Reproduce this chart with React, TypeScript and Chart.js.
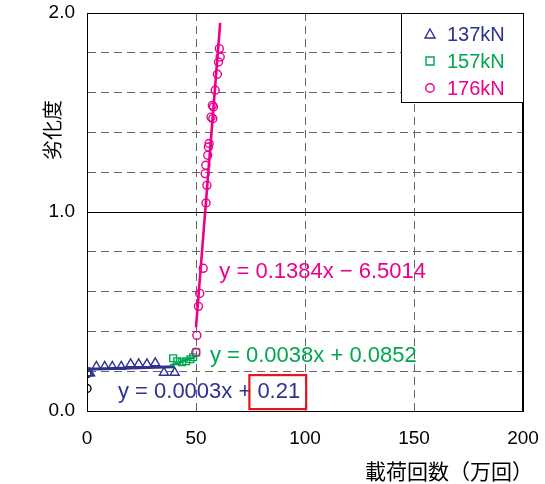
import React, { useEffect, useRef } from "react";
import { Chart, registerables } from "chart.js";

Chart.register(...registerables);

// ---------- data ----------
const SERIES_LABELS = ["137kN", "157kN", "176kN"];
const SERIES_COLORS = ["#2e3192", "#00a651", "#ec008c"];
const SERIES_MARKERS = ["triangle", "rect", "circle"];

const X_INIT = [0, 0];
const Y_INIT = [0.188, 0.113];

const X_137 = [0.8, 1.4, 4.3, 8.1, 11.6, 15.7, 20.0, 23.7, 27.5, 31.3, 35.3, 40.2];
const Y_137 = [0.19, 0.19, 0.223, 0.223, 0.223, 0.223, 0.236, 0.236, 0.236, 0.241, 0.193, 0.193];

const X_157 = [39.5, 41.4, 43.6, 45.5, 47.4, 48.7, 50.1];
const Y_157 = [0.265, 0.25, 0.245, 0.25, 0.26, 0.27, 0.295];

const X_176 = [49.9, 50.4, 51.1, 51.7, 53.3, 54.6, 55.0, 54.2, 54.5, 55.4, 55.7, 56.0, 56.9, 57.7, 57.5, 58.0, 58.8, 59.8, 60.3, 61.1, 60.7];
const Y_176 = [0.295, 0.38, 0.526, 0.591, 0.717, 1.045, 1.134, 1.193, 1.235, 1.285, 1.327, 1.344, 1.477, 1.469, 1.536, 1.528, 1.612, 1.692, 1.754, 1.779, 1.821];

const FIT_137_X = [0, 40];
const FIT_137_Y = [0.21, 0.222];
const FIT_157_X = [38.2, 49.6];
const FIT_157_Y = [0.229, 0.271];
const FIT_176_X = [50.0, 61.1];
const FIT_176_Y = [0.42, 1.95];

const EQ_137_PREFIX = "y = 0.0003x + ";
const EQ_137_BOXED = "0.21";
const EQ_157 = "y = 0.0038x + 0.0852";
const EQ_176 = "y = 0.1384x \u2212 6.5014";

const X_MIN = 0;
const X_MAX = 200;
const X_STEP = 50;
const Y_MIN = 0;
const Y_MAX = 2;
const Y_STEP = 0.2;
const Y_LABELED = [0, 1, 2];

const X_TITLE = "載荷回数（万回）";
const Y_TITLE = "劣化度";

// ---------- helpers ----------
const pts = (xs: number[], ys: number[]) => xs.map((x, i) => ({ x, y: ys[i] }));
const LATIN = "'Liberation Sans', Arial, 'Noto Sans CJK JP', sans-serif";
const CJK = "'Noto Sans CJK JP', 'Liberation Sans', sans-serif";

const isLabeledY = (v: number) => Y_LABELED.some((t) => Math.abs(t - v) < 1e-6);

function drawMarker(ctx: CanvasRenderingContext2D, kind: string, x: number, y: number) {
  ctx.beginPath();
  if (kind === "triangle") {
    ctx.moveTo(x, y - 5);
    ctx.lineTo(x + 5, y + 4);
    ctx.lineTo(x - 5, y + 4);
    ctx.closePath();
  } else if (kind === "rect") {
    ctx.rect(x - 4, y - 4, 8, 8);
  } else {
    ctx.arc(x, y, 4.2, 0, Math.PI * 2);
  }
  ctx.stroke();
}

const decorPlugin = {
  id: "decor",
  afterDraw(chart: any) {
    const { ctx, chartArea, scales } = chart;
    const xs = scales.x;
    const ys = scales.y;
    ctx.save();

    // plot frame
    ctx.strokeStyle = "#000";
    ctx.lineWidth = 1;
    ctx.strokeRect(
      Math.round(chartArea.left) + 0.5,
      Math.round(chartArea.top) + 0.5,
      Math.round(chartArea.right - chartArea.left) - 1,
      Math.round(chartArea.bottom - chartArea.top)
    );

    // equations
    ctx.font = `22px ${LATIN}`;
    ctx.textBaseline = "middle";
    ctx.textAlign = "left";

    ctx.fillStyle = SERIES_COLORS[2];
    ctx.fillText(EQ_176, xs.getPixelForValue(60.7), ys.getPixelForValue(0.70));

    ctx.fillStyle = SERIES_COLORS[1];
    ctx.fillText(EQ_157, xs.getPixelForValue(56.4), ys.getPixelForValue(0.276));

    const bx = xs.getPixelForValue(14.2);
    const by = ys.getPixelForValue(0.095);
    ctx.fillStyle = SERIES_COLORS[0];
    ctx.fillText(EQ_137_PREFIX, bx, by);
    const pw = ctx.measureText(EQ_137_PREFIX).width;
    ctx.fillText(EQ_137_BOXED, bx + pw, by);
    const bw = ctx.measureText(EQ_137_BOXED).width;
    ctx.strokeStyle = "#e8141c";
    ctx.lineWidth = 2.2;
    ctx.strokeRect(bx + pw - 8, by - 17, bw + 14, 34);

    // legend
    const lx0 = 401.5, ly0 = 13.5, lx1 = 523.5, ly1 = 102.5;
    ctx.fillStyle = "#fff";
    ctx.fillRect(lx0, ly0, lx1 - lx0, ly1 - ly0);
    ctx.strokeStyle = "#000";
    ctx.lineWidth = 1;
    ctx.strokeRect(lx0, ly0, lx1 - lx0, ly1 - ly0);
    ctx.font = `20px ${LATIN}`;
    ctx.textAlign = "left";
    ctx.textBaseline = "middle";
    const rowY = [34, 61, 88];
    SERIES_LABELS.forEach((lab, i) => {
      ctx.strokeStyle = SERIES_COLORS[i];
      ctx.lineWidth = 1.4;
      drawMarker(ctx, SERIES_MARKERS[i], 430, rowY[i]);
      ctx.fillStyle = SERIES_COLORS[i];
      ctx.fillText(lab, 447, rowY[i] + 1);
    });

    // axis titles
    ctx.fillStyle = "#000";
    ctx.font = `21px ${CJK}`;
    ctx.textAlign = "right";
    ctx.textBaseline = "middle";
    ctx.fillText(X_TITLE, 533, 471);

    ctx.save();
    ctx.translate(52, 130);
    ctx.rotate(-Math.PI / 2);
    ctx.textAlign = "center";
    ctx.font = `20px ${CJK}`;
    ctx.fillText(Y_TITLE, 0, 0);
    ctx.restore();

    ctx.restore();
  },
};

export default function App() {
  const ref = useRef<HTMLCanvasElement | null>(null);

  useEffect(() => {
    if (!ref.current) return;
    Chart.defaults.font.family = LATIN;
    const dashFor = (edge: (v: number) => boolean) => (c: any) =>
      c.tick && !edge(c.tick.value) ? [8, 5] : [];
    const xEdge = (v: number) => v === X_MIN || v === X_MAX;
    const yEdge = (v: number) => isLabeledY(v);

    const chart = new Chart(ref.current, {
      type: "scatter",
      data: {
        datasets: [
          {
            label: "fit176",
            data: pts(FIT_176_X, FIT_176_Y),
            showLine: true,
            borderColor: SERIES_COLORS[2],
            borderWidth: 2.6,
            pointRadius: 0,
          },
          {
            label: "fit157",
            data: pts(FIT_157_X, FIT_157_Y),
            showLine: true,
            borderColor: SERIES_COLORS[1],
            borderWidth: 2.6,
            pointRadius: 0,
          },
          {
            label: "fit137",
            data: pts(FIT_137_X, FIT_137_Y),
            showLine: true,
            borderColor: SERIES_COLORS[0],
            borderWidth: 3,
            pointRadius: 0,
          },
          {
            label: SERIES_LABELS[2],
            data: pts(X_176, Y_176),
            pointStyle: "circle",
            pointRadius: 4,
            borderColor: SERIES_COLORS[2],
            backgroundColor: "rgba(0,0,0,0)",
            borderWidth: 1.4,
          },
          {
            label: SERIES_LABELS[1],
            data: pts(X_157, Y_157),
            pointStyle: "rect",
            pointRadius: 4.8,
            borderColor: SERIES_COLORS[1],
            backgroundColor: "rgba(0,0,0,0)",
            borderWidth: 1.4,
          },
          {
            label: SERIES_LABELS[0],
            data: pts(X_137, Y_137),
            pointStyle: "triangle",
            pointRadius: 5.2,
            borderColor: SERIES_COLORS[0],
            backgroundColor: "rgba(0,0,0,0)",
            borderWidth: 1.4,
          },
          {
            label: "initial",
            data: pts(X_INIT, Y_INIT),
            pointStyle: "circle",
            pointRadius: 4,
            borderColor: "#000",
            backgroundColor: "rgba(0,0,0,0)",
            borderWidth: 1.4,
          },
        ],
      },
      options: {
        responsive: false,
        animation: false,
        devicePixelRatio: 1,
        layout: { padding: { left: 0, top: 13, right: 22, bottom: 0 } },
        plugins: { legend: { display: false }, tooltip: { enabled: false } },
        scales: {
          x: {
            type: "linear",
            min: X_MIN,
            max: X_MAX,
            ticks: {
              stepSize: X_STEP,
              color: "#000",
              font: { size: 19 },
              padding: 16,
              maxRotation: 0,
            },
            grid: { drawTicks: false, color: (c: any) => (c.tick && xEdge(c.tick.value) ? "#000" : "#666"), lineWidth: 1 },
            border: { display: true, color: "#000", width: 1, dash: dashFor(xEdge) } as any,
            afterFit: (s: any) => {
              s.height = 73;
              s.paddingLeft = 0;
              s.paddingRight = 0;
            },
          },
          y: {
            type: "linear",
            min: Y_MIN,
            max: Y_MAX,
            ticks: {
              stepSize: Y_STEP,
              color: "#000",
              font: { size: 19 },
              padding: 12,
              autoSkip: false,
              callback: (v: any) => (isLabeledY(Number(v)) ? Number(v).toFixed(1) : ""),
            },
            grid: { drawTicks: false, color: (c: any) => (c.tick && yEdge(c.tick.value) ? "#000" : "#666"), lineWidth: 1 },
            border: { display: true, color: "#000", width: 1, dash: dashFor(yEdge) } as any,
            afterFit: (s: any) => {
              s.width = 87;
              s.paddingTop = 0;
              s.paddingBottom = 0;
            },
          },
        },
      } as any,
      plugins: [decorPlugin],
    });
    return () => chart.destroy();
  }, []);

  return (
    <div style={{ position: "absolute", left: 0, top: 0, width: 545, height: 484 }}>
      <canvas ref={ref} width={545} height={484} style={{ display: "block", width: 545, height: 484 }} />
    </div>
  );
}
